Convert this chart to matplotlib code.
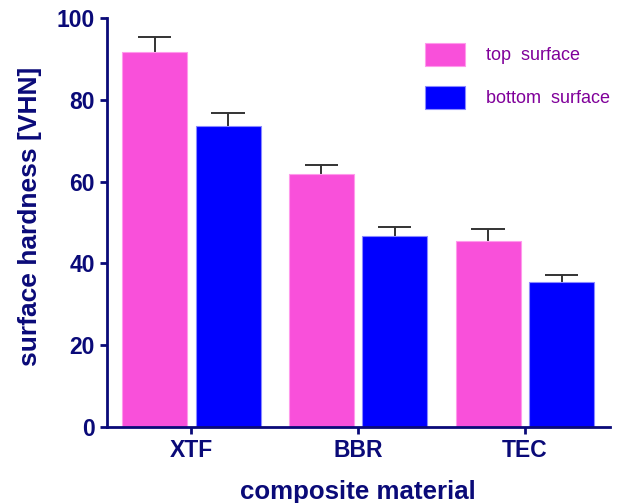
import matplotlib.pyplot as plt
import numpy as np

plt.rcParams['font.family'] = ['Liberation Sans', 'DejaVu Sans']

materials = ["XTF", "BBR", "TEC"]
top_surface = [91.7, 61.9, 45.5]
top_err = [3.7, 2.2, 2.9]
bottom_surface = [73.6, 46.7, 35.5]
bottom_err = [3.2, 2.2, 1.7]

navy = "#0a0a78"
pink = "#f950da"
blue = "#0000ff"

fig = plt.figure(figsize=(6.32, 5.03), dpi=100)
ax = fig.add_axes([0.169, 0.151, 0.796, 0.813])

x = np.arange(len(materials))
w = 0.39
off = 0.22
cap = 0.1

# upward-only error bars, drawn under the bars
for xs, vals, errs in [(x - off, top_surface, top_err), (x + off, bottom_surface, bottom_err)]:
    tops = np.array(vals) + np.array(errs)
    ax.vlines(xs, vals, tops, color="#333333", lw=1.4, zorder=1)
    ax.hlines(tops, xs - cap, xs + cap, color="#333333", lw=1.4, zorder=1)

ax.bar(x - off, top_surface, w, color=pink, edgecolor="#ff9aec", linewidth=0.8,
       label="top  surface", zorder=2)
ax.bar(x + off, bottom_surface, w, color=blue, edgecolor="#8a8aff", linewidth=0.8,
       label="bottom  surface", zorder=2)

ax.set_xlim(-0.507, 2.51)
ax.set_ylim(0, 100)
ax.set_yticks([0, 20, 40, 60, 80, 100])
ax.set_xticks(x)
ax.set_xticklabels(materials)

for s in ["top", "right"]:
    ax.spines[s].set_visible(False)
for s in ["left", "bottom"]:
    ax.spines[s].set_color(navy)
    ax.spines[s].set_linewidth(2)
    ax.spines[s].set_zorder(3)

ax.tick_params(colors=navy, width=2, length=5, labelsize=16.5)
for lab in ax.get_xticklabels() + ax.get_yticklabels():
    lab.set_fontweight("bold")

ax.set_xlabel("composite material", fontsize=18.6, fontweight="bold", color=navy, labelpad=13)
ax.set_ylabel("surface hardness [VHN]", fontsize=19, fontweight="bold", color=navy)
ax.yaxis.set_label_coords(-0.128, 0.516)

leg = ax.legend(loc="upper left", bbox_to_anchor=(0.6, 0.98), frameon=False, fontsize=13,
                handlelength=2.2, handleheight=1.6, handletextpad=1.2, labelspacing=1.1)
for t in leg.get_texts():
    t.set_color("#80009a")

fig.savefig("out.png", dpi=100)
